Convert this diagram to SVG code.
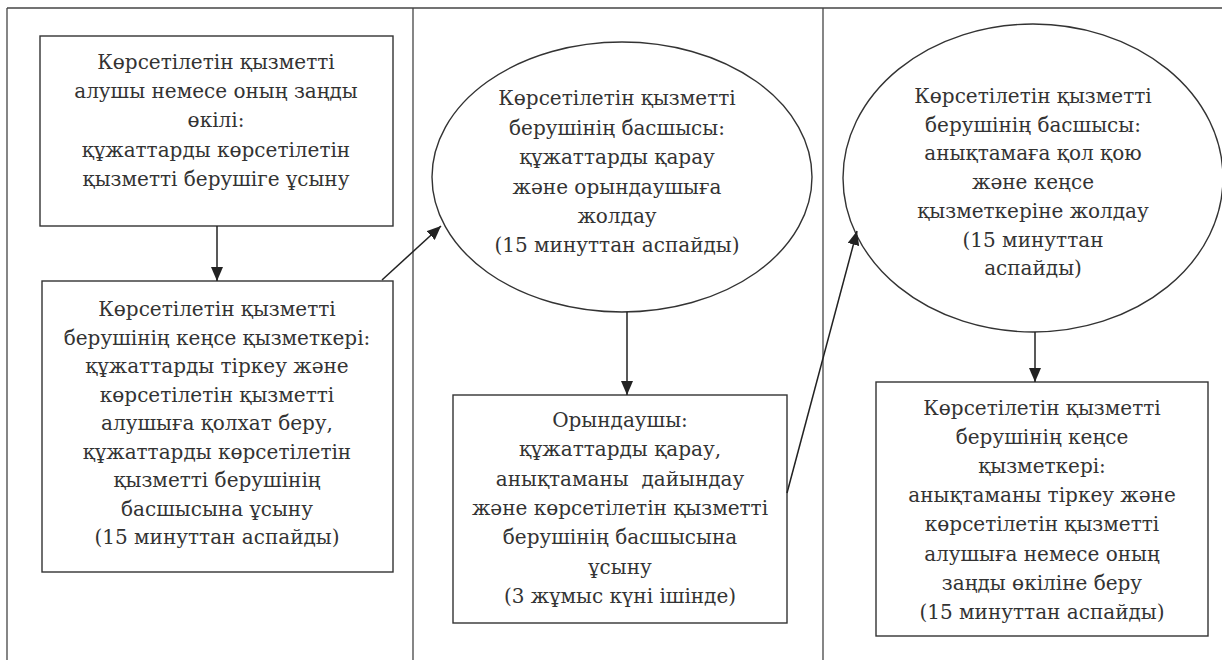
<svg xmlns="http://www.w3.org/2000/svg" width="1222" height="660" viewBox="0 0 1222 660">
<defs>
<style>
.frame{fill:none;stroke:#444;stroke-width:1.3}
.node{fill:none;stroke:#333;stroke-width:1.4}
.edge{fill:none;stroke:#222;stroke-width:1.5}
.lbl{font-size:20px;fill:#333;text-anchor:middle}
</style>
<marker id="ah" viewBox="0 0 14 12" refX="14" refY="6" markerWidth="14" markerHeight="12" markerUnits="userSpaceOnUse" orient="auto">
<path d="M0,0 L14,6 L0,12 Z" fill="#222"/>
</marker>
</defs>
<rect width="1222" height="660" fill="#fff"/>
<g id="lanes">
<line class="frame" x1="7" y1="8" x2="1222" y2="8"/>
<line class="frame" x1="7" y1="8" x2="7" y2="660"/>
<line class="frame" x1="413" y1="8" x2="413" y2="660"/>
<line class="frame" x1="823" y1="8" x2="823" y2="660"/>
</g>
<g id="n1">
<rect class="node" x="40" y="36" width="353" height="190"/>
<text class="lbl" font-family="DejaVu Serif" x="216"><tspan x="216" y="69">Көрсетілетін қызметті</tspan><tspan x="216" y="98">алушы немесе оның заңды</tspan><tspan x="216" y="127">өкілі:</tspan><tspan x="216" y="157">құжаттарды көрсетілетін</tspan><tspan x="216" y="186">қызметті берушіге ұсыну</tspan></text>
</g>
<g id="n2">
<rect class="node" x="42" y="281" width="351" height="291"/>
<text class="lbl" font-family="DejaVu Serif" x="217"><tspan x="217" y="316">Көрсетілетін қызметті</tspan><tspan x="217" y="344.5">берушінің кеңсе қызметкері:</tspan><tspan x="217" y="373">құжаттарды тіркеу және</tspan><tspan x="217" y="401.5">көрсетілетін қызметті</tspan><tspan x="217" y="430">алушыға қолхат беру,</tspan><tspan x="217" y="458.5">құжаттарды көрсетілетін</tspan><tspan x="217" y="487">қызметті берушінің</tspan><tspan x="217" y="515.5">басшысына ұсыну</tspan><tspan x="217" y="544">(15 минуттан аспайды)</tspan></text>
</g>
<g id="n3">
<ellipse class="node" cx="622" cy="177" rx="190" ry="135"/>
<text class="lbl" font-family="DejaVu Serif" x="617"><tspan x="617" y="105">Көрсетілетін қызметті</tspan><tspan x="617" y="134.5">берушінің басшысы:</tspan><tspan x="617" y="164">құжаттарды қарау</tspan><tspan x="617" y="193.5">және орындаушыға</tspan><tspan x="617" y="223">жолдау</tspan><tspan x="617" y="252">(15 минуттан аспайды)</tspan></text>
</g>
<g id="n4">
<rect class="node" x="453" y="395" width="334" height="228"/>
<text class="lbl" font-family="DejaVu Serif" xml:space="preserve" x="620"><tspan x="620" y="427">Орындаушы:</tspan><tspan x="620" y="456.3">құжаттарды қарау,</tspan><tspan x="620" y="485.6">анықтаманы  дайындау</tspan><tspan x="620" y="514.9">және көрсетілетін қызметті</tspan><tspan x="620" y="544.2">берушінің басшысына</tspan><tspan x="620" y="573.5">ұсыну</tspan><tspan x="620" y="603">(3 жұмыс күні ішінде)</tspan></text>
</g>
<g id="n5">
<ellipse class="node" cx="1033" cy="178" rx="190" ry="154"/>
<text class="lbl" font-family="DejaVu Serif" x="1033"><tspan x="1033" y="103">Көрсетілетін қызметті</tspan><tspan x="1033" y="131.7">берушінің басшысы:</tspan><tspan x="1033" y="160.4">анықтамаға қол қою</tspan><tspan x="1033" y="189.1">және кеңсе</tspan><tspan x="1033" y="217.8">қызметкеріне жолдау</tspan><tspan x="1033" y="246.5">(15 минуттан</tspan><tspan x="1033" y="275">аспайды)</tspan></text>
</g>
<g id="n6">
<rect class="node" x="876" y="382" width="332" height="254"/>
<text class="lbl" font-family="DejaVu Serif" x="1042"><tspan x="1042" y="415">Көрсетілетін қызметті</tspan><tspan x="1042" y="444.1">берушінің кеңсе</tspan><tspan x="1042" y="473.2">қызметкері:</tspan><tspan x="1042" y="502.3">анықтаманы тіркеу және</tspan><tspan x="1042" y="531.4">көрсетілетін қызметті</tspan><tspan x="1042" y="560.5">алушыға немесе оның</tspan><tspan x="1042" y="589.6">заңды өкіліне беру</tspan><tspan x="1042" y="619">(15 минуттан аспайды)</tspan></text>
</g>
<g id="connectors">
<line class="edge" x1="217" y1="226" x2="217" y2="281" marker-end="url(#ah)"/>
<line class="edge" x1="382" y1="280" x2="441" y2="226" marker-end="url(#ah)"/>
<line class="edge" x1="627" y1="312" x2="627" y2="395" marker-end="url(#ah)"/>
<line class="edge" x1="787" y1="493" x2="857" y2="231" marker-end="url(#ah)"/>
<line class="edge" x1="1035" y1="332" x2="1035" y2="382" marker-end="url(#ah)"/>
</g>
</svg>
